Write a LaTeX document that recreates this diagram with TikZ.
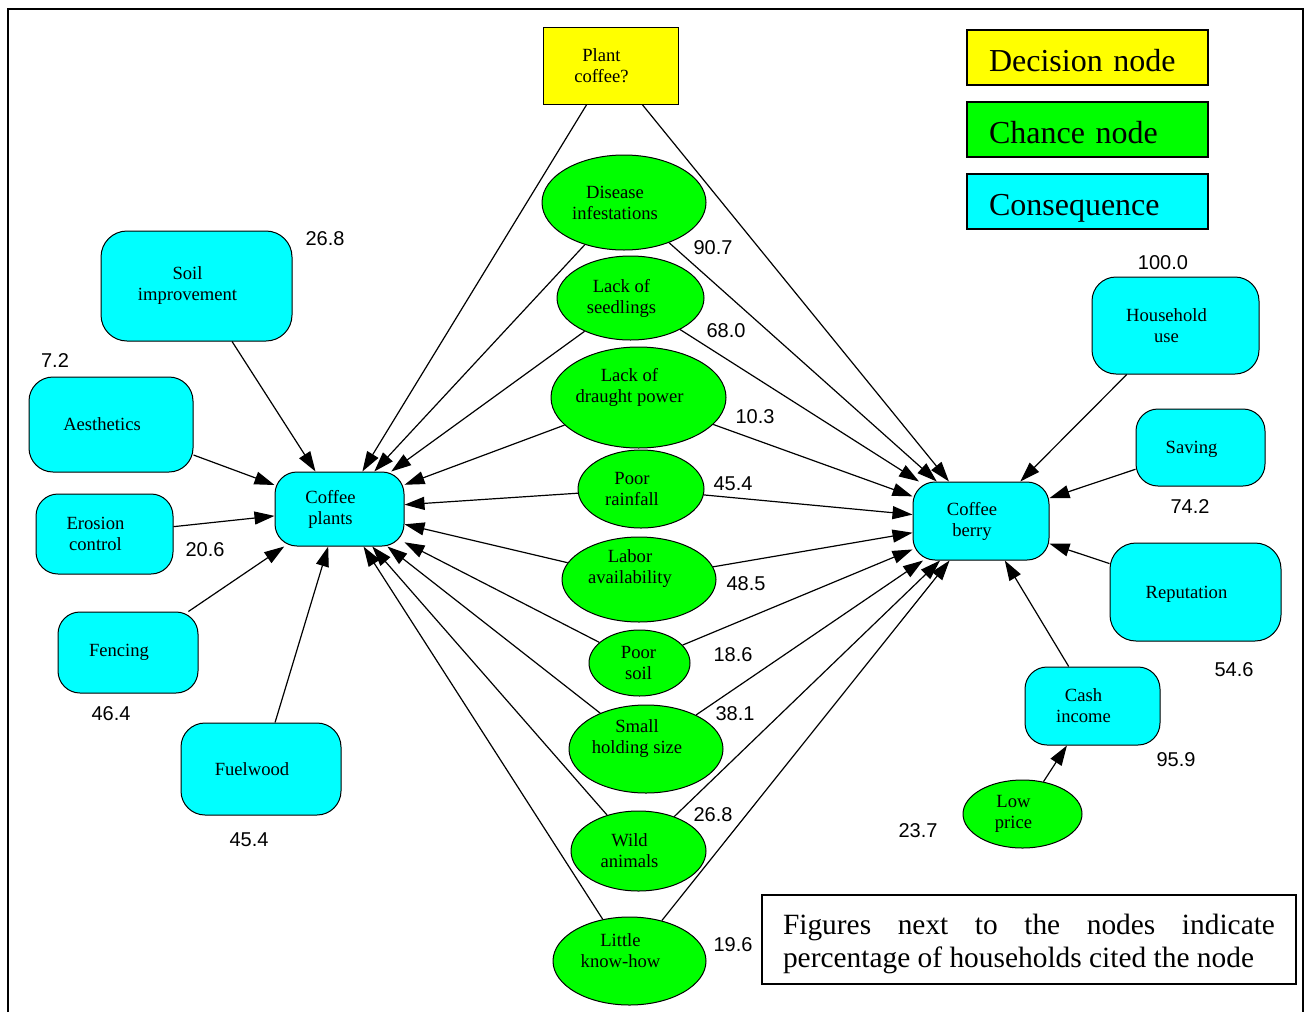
\documentclass[tikz,border=0pt]{standalone}
\usepackage{fontspec}
\setmainfont{Liberation Serif}
\newfontfamily\numfont{Liberation Sans}
\usetikzlibrary{shapes.geometric,arrows.meta}

\definecolor{decyellow}{RGB}{255,255,0}
\definecolor{chgreen}{RGB}{0,255,0}
\definecolor{conscyan}{RGB}{0,255,255}

\begin{document}
\begin{tikzpicture}[x=0.5pt,y=-0.5pt,
  base/.style={draw=black, line width=0.5pt, inner sep=0pt},
  decision/.style={base, rectangle, fill=decyellow},
  chance/.style={base, ellipse, fill=chgreen},
  cons/.style={base, rectangle, rounded corners=11pt, fill=conscyan},
  txt/.style={align=center, inner sep=0pt, xshift=-4.5pt,
    font=\fontsize{9.3}{10.5}\selectfont},
  pct/.style={inner sep=0pt, font=\numfont\fontsize{10}{12}\selectfont},
  legend/.style={draw=black, line width=0.8pt, rectangle, inner ysep=0pt,
    inner xsep=11pt, text width=98.5pt, text height=13.5pt, text depth=0pt,
    minimum height=27.5pt, align=left, font=\fontsize{16}{18}\selectfont},
  link/.style={line width=0.6pt, -{Triangle[length=10pt,width=6.5pt]}}]

\useasboundingbox (0,0) rectangle (1305,1012);

% open frame round the figure
\draw[line width=0.9pt] (8,1012) -- (8,9) -- (1303,9) -- (1303,1012);

% decision node
\node[decision, minimum width=67.5pt, minimum height=38.5pt,
  label={[txt]center:{Plant\\coffee?}}] (plant) at (610.5,65.5) {};

% chance nodes
\node[chance, minimum width=82pt, minimum height=47.5pt,
  label={[txt]center:{Disease\\infestations}}] (dis) at (624,202.5) {};
\node[chance, minimum width=73.5pt, minimum height=42pt,
  label={[txt]center:{Lack of\\seedlings}}] (seed) at (630.5,298) {};
\node[chance, minimum width=87.5pt, minimum height=50.5pt,
  label={[txt,yshift=5pt]center:{Lack of\\draught power}}] (draught) at (638.5,397.5) {};
\node[chance, minimum width=63pt, minimum height=39pt,
  label={[txt]center:{Poor\\rainfall}}] (rain) at (641,489) {};
\node[chance, minimum width=77pt, minimum height=42.5pt,
  label={[txt,yshift=5.5pt]center:{Labor\\availability}}] (labor) at (639,579.5) {};
\node[chance, minimum width=50.5pt, minimum height=33pt,
  label={[txt,xshift=4pt]center:{Poor\\soil}}] (psoil) at (639.5,663) {};
\node[chance, minimum width=77pt, minimum height=44pt,
  label={[txt,yshift=5pt]center:{Small\\holding size}}] (small) at (646,749) {};
\node[chance, minimum width=67.5pt, minimum height=40pt,
  label={[txt]center:{Wild\\animals}}] (wild) at (638.5,851) {};
\node[chance, minimum width=76.5pt, minimum height=44pt,
  label={[txt,yshift=5pt]center:{Little\\know-how}}] (know) at (629.5,961) {};
\node[chance, minimum width=59.5pt, minimum height=34pt,
  label={[txt]center:{Low\\price}}] (low) at (1022.5,814) {};

% consequences
\node[cons, minimum width=64.5pt, minimum height=37pt,
  label={[txt]center:{Coffee\\plants}}] (cp) at (339.5,509) {};
\node[cons, minimum width=68pt, minimum height=39pt,
  label={[txt]center:{Coffee\\berry}}] (cb) at (981,521) {};
\node[cons, rounded corners=13pt, minimum width=95.5pt, minimum height=55pt,
  label={[txt]center:{Soil\\improvement}}] (simp) at (196.5,286) {};
\node[cons, rounded corners=12pt, minimum width=82pt, minimum height=47.5pt,
  label={[txt]center:{Aesthetics}}] (aest) at (111,424.5) {};
\node[cons, minimum width=68.5pt, minimum height=40pt,
  label={[txt]center:{Erosion\\control}}] (eros) at (104.5,534) {};
\node[cons, minimum width=70pt, minimum height=40.5pt,
  label={[txt]center:{Fencing}}] (fenc) at (128,652.5) {};
\node[cons, rounded corners=12pt, minimum width=80pt, minimum height=46pt,
  label={[txt]center:{Fuelwood}}] (fuel) at (261,769) {};
\node[cons, rounded corners=12pt, minimum width=83.5pt, minimum height=48.5pt,
  label={[txt]center:{Household\\use}}] (house) at (1175.5,325.5) {};
\node[cons, minimum width=64.5pt, minimum height=38.5pt,
  label={[txt,yshift=-1pt]center:{Saving}}] (save) at (1200.5,447.5) {};
\node[cons, rounded corners=13pt, minimum width=85.5pt, minimum height=49pt,
  label={[txt,yshift=-1pt]center:{Reputation}}] (rep) at (1195.5,592) {};
\node[cons, minimum width=67.5pt, minimum height=39pt,
  label={[txt]center:{Cash\\income}}] (cash) at (1092.5,706) {};

% legend
\node[legend, fill=decyellow] (lgdec) at (1087.5,57.5) {Decision node};
\node[legend, fill=chgreen] (lgch) at (1087.5,129.5) {Chance node};
\node[legend, fill=conscyan] (lgcon) at (1087.5,201.5) {Consequence};

% note
\node[draw=black, line width=0.8pt, rectangle, minimum width=267pt,
  minimum height=44.5pt,
  label={[inner sep=0pt, align=left, yshift=-2pt,
    font=\fontsize{14.7}{16.5}\selectfont]center:{%
    \makebox[246pt][s]{Figures next to the nodes indicate}\\
    percentage of households cited the node}}] (note) at (1029,939.5) {};

% links into the two main consequences
\foreach \s in {plant,dis,seed,draught,rain,labor,psoil,small,wild,know}{
  \draw[link] (\s) -- (cp);
  \draw[link] (\s) -- (cb);
}
\foreach \s in {simp,aest,eros,fenc,fuel}{
  \draw[link] (\s) -- (cp);
}
\foreach \s in {house,save,rep,cash}{
  \draw[link] (\s) -- (cb);
}
\draw[link] (low) -- (cash);

% percentages
\node[pct] (p1) at (325,239) {26.8};
\node[pct] (p2) at (55,361) {7.2};
\node[pct] (p3) at (205,550) {20.6};
\node[pct] (p4) at (111,714) {46.4};
\node[pct] (p5) at (249,840) {45.4};
\node[pct] (p6) at (713,248) {90.7};
\node[pct] (p7) at (726,331) {68.0};
\node[pct] (p8) at (755,417) {10.3};
\node[pct] (p9) at (733,484) {45.4};
\node[pct] (p10) at (746,584) {48.5};
\node[pct] (p11) at (733,655) {18.6};
\node[pct] (p12) at (735,714) {38.1};
\node[pct] (p13) at (713,815) {26.8};
\node[pct] (p14) at (733,945) {19.6};
\node[pct] (p15) at (1163,263) {100.0};
\node[pct] (p16) at (1190,507) {74.2};
\node[pct] (p17) at (1234,670) {54.6};
\node[pct] (p18) at (1176,760) {95.9};
\node[pct] (p19) at (918,831) {23.7};
\end{tikzpicture}
\end{document}
